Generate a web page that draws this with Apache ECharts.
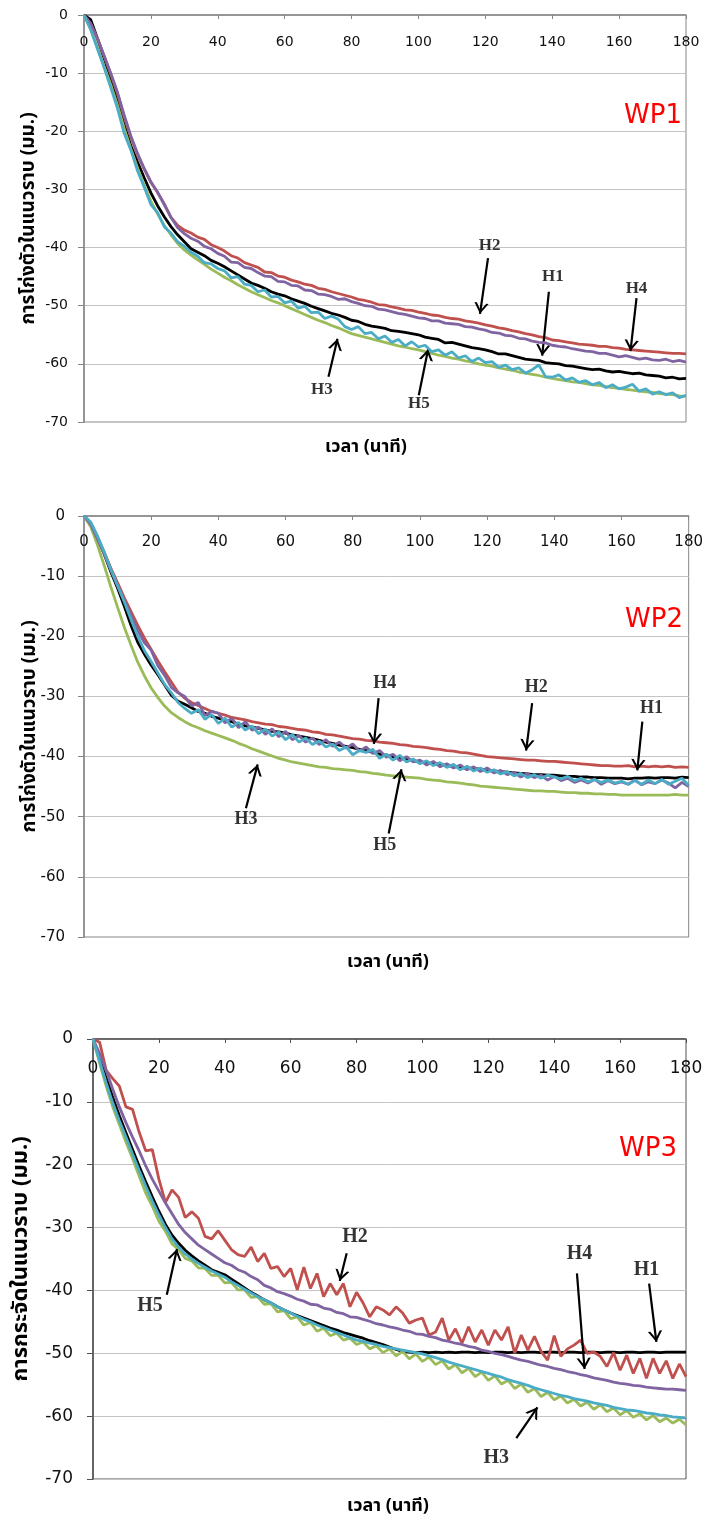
<!DOCTYPE html>
<html>
<head>
<meta charset="utf-8">
<script src="https://cdn.jsdelivr.net/npm/echarts@6/dist/echarts.min.js"></script>
<style>
  html, body { margin: 0; padding: 0; background: #fff; }
  #chart { width: 706px; height: 1520px; }
</style>
</head>
<body>
<div id="chart"></div>
<script>
// ---------- time axis (minutes) ----------
const T = [
  0, 2, 4, 6, 8, 10, 12, 14, 16, 18,
  20, 22, 24, 26, 28, 30, 32, 34, 36, 38,
  40, 42, 44, 46, 48, 50, 52, 54, 56, 58,
  60, 62, 64, 66, 68, 70, 72, 74, 76, 78,
  80, 82, 84, 86, 88, 90, 92, 94, 96, 98,
  100, 102, 104, 106, 108, 110, 112, 114, 116, 118,
  120, 122, 124, 126, 128, 130, 132, 134, 136, 138,
  140, 142, 144, 146, 148, 150, 152, 154, 156, 158,
  160, 162, 164, 166, 168, 170, 172, 174, 176, 178,
  180
];
const X_TICKS = [0, 20, 40, 60, 80, 100, 120, 140, 160, 180];
const Y_TICKS = [0, -10, -20, -30, -40, -50, -60, -70];
const SERIES_NAMES = ['H1', 'H2', 'H3', 'H4', 'H5'];

// ---------- WP1 ----------
const WP1_H1 = [
  0, -0.8, -4, -7.5, -11, -14.5, -18.8, -22.5, -25.3, -28,
  -30.6, -32.8, -34.7, -36.4, -37.8, -39, -40.2, -40.8, -41.4, -42.2,
  -42.7, -43.3, -44, -44.7, -45.4, -46.1, -46.5, -47, -47.6, -48,
  -48.3, -48.8, -49.2, -49.6, -50.1, -50.5, -50.9, -51.3, -51.6, -52,
  -52.5, -52.7, -53.2, -53.5, -53.7, -53.9, -54.3, -54.4, -54.6, -54.8,
  -55, -55.4, -55.6, -55.8, -56.4, -56.3, -56.6, -56.9, -57.2, -57.4,
  -57.6, -57.9, -58.3, -58.3, -58.6, -58.9, -59.2, -59.3, -59.4, -59.8,
  -59.9, -60, -60.3, -60.4, -60.6, -60.8, -61, -60.9, -61.2, -61.4,
  -61.3, -61.5, -61.7, -61.6, -61.9, -62, -62.1, -62.4, -62.3, -62.6,
  -62.5
];
const WP1_H2 = [
  0, -1.5, -4, -7, -10.2, -13.5, -17.5, -21, -24, -26.5,
  -28.8, -30.5, -32.5, -34.8, -36.2, -37, -37.5, -38.2, -38.6, -39.5,
  -40, -40.6, -41.4, -41.8, -42.6, -43, -43.4, -44.2, -44.3, -44.9,
  -45.1, -45.6, -45.9, -46.3, -46.5, -47, -47.2, -47.6, -47.9, -48.2,
  -48.5, -48.9, -49.1, -49.4, -49.8, -49.9, -50.2, -50.4, -50.7, -50.8,
  -51.1, -51.3, -51.6, -51.7, -52, -52.2, -52.3, -52.6, -52.8, -53,
  -53.3, -53.5, -53.8, -54, -54.3, -54.5, -54.8, -55, -55.3, -55.5,
  -55.9, -56, -56.2, -56.4, -56.6, -56.7, -56.8, -57, -57, -57.2,
  -57.3, -57.5, -57.6, -57.7, -57.8, -57.9, -58, -58.1, -58.2, -58.2,
  -58.3
];
const WP1_H3 = [
  0, -2.5, -5.5, -8.8, -12, -15.5, -19.5, -23, -26.3, -29.3,
  -32, -34.2, -36.2, -37.8, -39.3, -40.4, -41.3, -42.1, -42.9, -43.7,
  -44.4, -45.1, -45.7, -46.4, -47, -47.6, -48.1, -48.6, -49.1, -49.5,
  -50, -50.5, -51, -51.5, -52, -52.5, -52.9, -53.4, -53.8, -54.3,
  -54.8, -55.1, -55.4, -55.7, -56, -56.3, -56.6, -56.9, -57.1, -57.4,
  -57.6, -57.9, -58.2, -58.5, -58.7, -59, -59.2, -59.5, -59.7, -60,
  -60.2, -60.4, -60.7, -60.9, -61.1, -61.4, -61.6, -61.8, -62, -62.3,
  -62.5, -62.7, -62.9, -63.1, -63.2, -63.4, -63.6, -63.7, -63.9, -64.1,
  -64.2, -64.4, -64.5, -64.7, -64.8, -64.9, -65.1, -65.2, -65.3, -65.5,
  -65.6
];
const WP1_H4 = [
  0, -1.5, -4, -7, -10, -13.3, -17.2, -20.8, -23.8, -26.4,
  -28.7, -30.5, -32.6, -34.8, -36.6, -37.6, -38.4, -38.9, -39.8, -40.2,
  -41, -41.5, -42.5, -42.6, -43.4, -43.6, -44.3, -44.9, -45, -45.8,
  -45.9, -46.5, -46.6, -47.3, -47.4, -48, -48.1, -48.4, -48.9, -48.8,
  -49.3, -49.6, -50, -50.1, -50.6, -50.7, -51, -51.3, -51.5, -51.8,
  -52.1, -52.2, -52.6, -52.6, -53, -53.1, -53.2, -53.6, -53.7, -54,
  -54.2, -54.6, -54.7, -55.1, -55.2, -55.6, -55.7, -56.1, -56.3, -56.4,
  -56.8, -57, -57.1, -57.4, -57.6, -57.8, -57.9, -58.2, -58.2, -58.5,
  -58.8, -58.6, -58.9, -59.2, -59, -59.3, -59.4, -59.2, -59.6, -59.4,
  -59.7
];
const WP1_H5 = [
  0, -2.5, -5.8, -9, -12.5, -16, -20.3, -23.2, -26.8, -29.6,
  -32.6, -34, -36.4, -37.5, -39, -39.8, -40.8, -41.5, -42.6, -42.8,
  -43.6, -44, -45.2, -45, -46.3, -46.5, -47.6, -47.3, -48.5, -48.4,
  -49.5, -49.2, -50.4, -50.1, -51.2, -51.1, -52.2, -51.8, -52.3, -53.6,
  -54.1, -53.6, -54.8, -54.6, -55.7, -55.2, -56.3, -55.8, -56.9, -56.2,
  -57.1, -56.8, -57.9, -57.6, -58.5, -57.9, -59, -58.6, -59.6, -59,
  -59.8, -59.6, -60.6, -60.2, -61, -60.7, -61.6, -61, -60.2, -62.2,
  -62.3, -61.9, -62.8, -62.4, -63.2, -62.9, -63.6, -63.2, -64.1, -63.6,
  -64.3, -64, -63.5, -64.7, -64.3, -65.2, -64.8, -65.3, -65, -65.8,
  -65.4
];

// ---------- WP2 ----------
const WP2_H1 = [
  0, -1.2, -3.6, -6.3, -9.3, -12, -15, -18.2, -21, -23,
  -24.8, -26.4, -28.1, -29.8, -30.8, -31.3, -31.9, -32.5, -32.8, -33.3,
  -33.6, -34, -34.2, -34.6, -34.9, -35.1, -35.3, -35.6, -35.8, -35.9,
  -36.1, -36.4, -36.6, -36.8, -37, -37.3, -37.6, -37.8, -38.1, -38.3,
  -38.5, -38.8, -39, -39.3, -39.6, -39.8, -40, -40.3, -40.4, -40.7,
  -40.9, -41, -41.2, -41.3, -41.5, -41.6, -41.8, -41.9, -42, -42.1,
  -42.2, -42.4, -42.5, -42.6, -42.7, -42.8, -42.9, -43, -43, -43.1,
  -43.1, -43.2, -43.3, -43.3, -43.4, -43.4, -43.5, -43.5, -43.6, -43.6,
  -43.6, -43.7, -43.6, -43.6, -43.5, -43.6, -43.5, -43.5, -43.6, -43.4,
  -43.5
];
const WP2_H2 = [
  0, -1.2, -3.5, -6, -8.7, -11.1, -13.6, -15.9, -18.2, -20.3,
  -22.2, -24.1, -25.9, -27.6, -29.3, -30.3, -31, -31.5, -32, -32.5,
  -32.8, -33.1, -33.5, -33.7, -33.9, -34.2, -34.4, -34.6, -34.7, -35,
  -35.1, -35.3, -35.5, -35.6, -35.9, -36, -36.3, -36.4, -36.6, -36.8,
  -37, -37.1, -37.3, -37.4, -37.6, -37.7, -37.8, -38, -38.1, -38.3,
  -38.4, -38.5, -38.7, -38.8, -39, -39.1, -39.3, -39.4, -39.6, -39.8,
  -40, -40.1, -40.2, -40.3, -40.4, -40.5, -40.6, -40.6, -40.7, -40.8,
  -40.8, -40.9, -41, -41.1, -41.2, -41.3, -41.4, -41.5, -41.5, -41.6,
  -41.6, -41.5, -41.7, -41.6, -41.7, -41.6, -41.7, -41.6, -41.8, -41.7,
  -41.8
];
const WP2_H3 = [
  0, -1.8, -4.8, -8.2, -11.8, -15.2, -18.5, -21.5, -24.3, -26.6,
  -28.6, -30.2, -31.6, -32.7, -33.5, -34.2, -34.8, -35.2, -35.7, -36.1,
  -36.5, -36.9, -37.3, -37.8, -38.2, -38.7, -39.1, -39.5, -39.9, -40.3,
  -40.6, -40.9, -41.1, -41.3, -41.5, -41.7, -41.8, -42, -42.1, -42.2,
  -42.3, -42.5, -42.6, -42.8, -42.9, -43.1, -43.2, -43.3, -43.4, -43.5,
  -43.6, -43.8, -43.9, -44, -44.2, -44.3, -44.4, -44.6, -44.7, -44.9,
  -45, -45.1, -45.2, -45.3, -45.4, -45.5, -45.6, -45.7, -45.7, -45.8,
  -45.8, -45.9, -46, -46, -46.1, -46.1, -46.2, -46.2, -46.3, -46.3,
  -46.4, -46.4, -46.4, -46.4, -46.4, -46.4, -46.4, -46.4, -46.3, -46.4,
  -46.4
];
const WP2_H4 = [
  0, -1.4, -3.8, -6.3, -9, -11.6, -14, -16.5, -19, -21.1,
  -22.3, -24.9, -26.5, -28.5, -29.4, -30, -31.6, -31, -33.2, -32.5,
  -32.8, -34.4, -33.6, -35.2, -34.2, -35.6, -35.1, -36.3, -35.4, -36.7,
  -35.8, -37.2, -36.5, -37.6, -36.9, -38, -37.2, -38.3, -37.6, -38.6,
  -37.9, -39.1, -38.4, -39.5, -39, -40.1, -39.6, -40.7, -40, -40.9,
  -40.6, -41.4, -40.8, -41.7, -41.2, -41.9, -41.4, -42.2, -41.7, -42.5,
  -41.9, -42.7, -42.3, -43, -42.6, -43.4, -42.8, -43.5, -43.1, -43.9,
  -43.3, -44, -43.6, -44.3, -43.9, -44.4, -43.8, -44.6, -44, -44.5,
  -44.2, -44.6, -43.9, -44.7, -44.2, -44.5, -43.9, -44.4, -45.2, -44.3,
  -45
];
const WP2_H5 = [
  0, -1, -3.3, -6, -8.9, -11.6, -14.3, -17.2, -20, -22.4,
  -24.2, -26.1, -28, -29.4, -31, -32, -32.8, -32.2, -33.8, -33,
  -34.5, -33.6, -35.1, -34.3, -35.6, -34.9, -36.2, -35.4, -36.6, -35.9,
  -37.2, -36.3, -37.6, -36.9, -38, -37.4, -38.4, -37.9, -39, -38.4,
  -39.7, -39, -39.3, -38.8, -40.3, -39.6, -40.6, -39.8, -40.9, -40.4,
  -41.2, -40.7, -41.5, -41, -41.8, -41.3, -42.2, -41.6, -42.4, -41.9,
  -42.6, -42.2, -42.9, -42.5, -43.2, -42.8, -43.5, -43, -43.6, -43.1,
  -43.4, -43.7, -43.3, -44, -43.6, -44.2, -43.8, -44.3, -43.9, -44.4,
  -44.1, -44.6, -44, -44.6, -43.9, -44.5, -43.8, -44.6, -44.1, -43.6,
  -44.8
];

// ---------- WP3 ----------
const WP3_H1 = [
  0, -3, -6.2, -9.3, -12.2, -14.9, -17.6, -20.2, -22.7, -25.1,
  -27.4, -29.5, -31.2, -32.5, -33.6, -34.5, -35.3, -36, -36.7, -37.1,
  -37.5, -38.2, -38.9, -39.6, -40.3, -40.9, -41.5, -42, -42.6, -43.1,
  -43.6, -44, -44.4, -44.8, -45.2, -45.6, -46, -46.3, -46.7, -47,
  -47.3, -47.6, -48, -48.3, -48.6, -49, -49.4, -49.7, -49.8, -49.9,
  -49.8, -49.9, -49.8, -49.9, -49.8, -49.9, -49.8, -49.8, -49.9, -49.8,
  -49.9, -49.8, -49.8, -49.9, -49.8, -49.9, -49.8, -49.8, -49.9, -49.8,
  -49.8, -49.9, -49.8, -49.8, -49.9, -49.8, -49.8, -49.9, -49.8, -49.8,
  -49.9, -49.8, -49.8, -49.9, -49.8, -49.8, -49.9, -49.8, -49.8, -49.8,
  -49.8
];
const WP3_H2 = [
  0, -0.5, -5, -6.3, -7.5, -10.8, -11.2, -14.8, -17.8, -17.6,
  -22.3, -26, -24, -25.2, -28.4, -27.5, -28.5, -31.4, -31.8, -30.5,
  -32, -33.5, -34.3, -34.6, -33.1, -35.4, -34.1, -36.5, -36.2, -37.8,
  -36.5, -39.9, -36.3, -39.7, -37.3, -41, -38.9, -40.7, -38.9, -42.6,
  -40.3, -42, -44.2, -42.6, -43.1, -43.9, -42.6, -43.6, -45.2, -44.7,
  -44.4, -47.1, -46.6, -44.4, -47.9, -46.1, -48.4, -45.8, -48.2, -46.3,
  -48.7, -46.3, -47.9, -45.8, -50, -47.1, -49.5, -47.3, -49.7, -51.1,
  -47.2, -50.5, -49.3, -48.7, -47.9, -50, -49.8, -50.5, -52.1, -49.9,
  -52.7, -50.3, -53.2, -50.8, -54, -50.8, -53.2, -51.2, -54, -51.7,
  -53.7
];
const WP3_H3 = [
  0, -3.8, -7.5, -10.8, -13.6, -16.4, -19, -21.8, -24.5, -26.6,
  -29, -30.6, -32.6, -33.5, -34.9, -35.3, -36.4, -36.5, -37.6, -37.6,
  -38.8, -38.7, -39.9, -39.9, -41.1, -41, -42.2, -42.1, -43.4, -43.2,
  -44.5, -44.2, -45.5, -45.1, -46.5, -46, -47.2, -46.8, -47.9, -47.6,
  -48.6, -48.2, -49.3, -48.8, -49.9, -49.3, -50.4, -49.7, -50.9, -50.1,
  -51.3, -50.6, -51.8, -51.2, -52.5, -51.8, -53.1, -52.4, -53.7, -53,
  -54.3, -53.6, -54.9, -54.3, -55.6, -54.9, -56.2, -55.6, -56.9, -56.2,
  -57.4, -56.8, -57.9, -57.3, -58.4, -57.8, -58.9, -58.2, -59.3, -58.7,
  -59.8, -59.1, -60.2, -59.6, -60.6, -59.9, -60.9, -60.3, -61.1, -60.5,
  -61.4
];
const WP3_H4 = [
  0, -2.3, -5, -8, -10.8, -13.3, -15.6, -17.8, -20.2, -22.3,
  -24.2, -26.1, -27.8, -29.5, -30.8, -31.8, -32.8, -33.5, -34.2, -34.9,
  -35.6, -36, -36.7, -37.1, -37.8, -38.3, -39.2, -39.6, -40.2, -40.5,
  -40.9, -41.4, -41.7, -42.2, -42.3, -42.8, -43, -43.5, -43.7, -44.2,
  -44.3, -44.6, -44.9, -45.3, -45.5, -45.8, -46, -46.3, -46.5, -46.9,
  -47, -47.3, -47.5, -47.9, -48.1, -48.4, -48.6, -48.9, -49.1, -49.5,
  -49.7, -50, -50.2, -50.5, -50.8, -51.1, -51.3, -51.6, -51.9, -52.1,
  -52.4, -52.6, -52.9, -53.1, -53.4, -53.6, -53.9, -54.1, -54.3, -54.6,
  -54.8, -54.9, -55.1, -55.2, -55.4, -55.5, -55.6, -55.7, -55.7, -55.8,
  -55.9
];
const WP3_H5 = [
  0, -3.5, -7, -10.2, -13, -15.6, -18.3, -20.9, -23.4, -25.8,
  -28, -30, -31.8, -33.1, -34.2, -35, -35.7, -36.3, -36.9, -37.4,
  -37.9, -38.6, -39.2, -39.8, -40.4, -41, -41.5, -42, -42.6, -43.1,
  -43.6, -44.1, -44.6, -45, -45.5, -45.9, -46.3, -46.7, -47.1, -47.5,
  -47.9, -48.1, -48.4, -48.6, -48.9, -49.1, -49.3, -49.5, -49.7, -49.9,
  -50.1, -50.4, -50.7, -51, -51.4, -51.7, -52, -52.3, -52.6, -52.9,
  -53.2, -53.5, -53.8, -54.2, -54.5, -54.8, -55.1, -55.5, -55.8, -56.1,
  -56.4, -56.7, -56.9, -57.2, -57.4, -57.6, -57.9, -58.1, -58.3, -58.6,
  -58.8, -59, -59.1, -59.3, -59.5, -59.6, -59.8, -59.9, -60.1, -60.2,
  -60.3
];

// ---------- annotations: [name, label point, arrow start, arrow tip] (data units) ----------
const NOTES_WP1 = [
  ['H2', [121.3, -39.6], [120.8, -41.8], [118.4, -51.4]],
  ['H1', [140.2, -45.0], [139.0, -47.6], [137.0, -58.6]],
  ['H4', [165.2, -47.0], [165.2, -48.7], [163.4, -57.8]],
  ['H5', [100.1, -66.8], [100.1, -65.4], [102.9, -57.5]],
  ['H3', [71.1, -64.5], [73.1, -62.2], [75.8, -55.7]]
];
const NOTES_WP2 = [
  ['H4', [89.5, -27.8], [87.7, -30.3], [86.3, -37.9]],
  ['H2', [134.6, -28.5], [133.4, -31.1], [131.6, -39.0]],
  ['H1', [168.9, -32.0], [166.2, -34.2], [164.7, -42.3]],
  ['H5', [89.5, -54.7], [90.7, -52.8], [94.5, -42.1]],
  ['H3', [48.2, -50.5], [48.2, -48.6], [51.7, -41.3]]
];
const NOTES_WP3 = [
  ['H5', [17.3, -42.5], [22.4, -40.7], [25.5, -33.4]],
  ['H2', [79.5, -31.4], [77.0, -34.1], [74.9, -38.5]],
  ['H4', [147.7, -34.1], [146.9, -37.3], [149.2, -52.5]],
  ['H1', [168.0, -36.7], [168.8, -38.9], [171.0, -48.2]],
  ['H3', [122.4, -66.7], [128.5, -63.5], [134.9, -58.6]]
];

// ---------- build ----------
const COLORS = { H1: '#000000', H2: '#C0504D', H3: '#9BBB59', H4: '#8064A2', H5: '#4BACC6' };
const PANELS = [
  { tag: 'WP1', data: [WP1_H1, WP1_H2, WP1_H3, WP1_H4, WP1_H5], notes: NOTES_WP1,
    grid: { left: 84, top: 15, width: 602, height: 407 },
    yName: 'การโก่งตัวในแนวราบ (มม.)', tickFont: 14, labelMargin: 27, yMargin: 16,
    nameGap: 44, nameFont: 19, noteFont: 17, axisColor: '#868686', tagPos: [653, 116], xTitle: [366, 448] },
  { tag: 'WP2', data: [WP2_H1, WP2_H2, WP2_H3, WP2_H4, WP2_H5], notes: NOTES_WP2,
    grid: { left: 84, top: 516, width: 608, height: 421 },
    yName: 'การโก่งตัวในแนวราบ (มม.)', tickFont: 15, labelMargin: 26, yMargin: 19,
    nameGap: 43, nameFont: 19, noteFont: 18, axisColor: '#868686', tagPos: [654, 620], xTitle: [388, 963] },
  { tag: 'WP3', data: [WP3_H1, WP3_H2, WP3_H3, WP3_H4, WP3_H5], notes: NOTES_WP3,
    grid: { left: 93, top: 1039, width: 593, height: 440 },
    yName: 'การกระจัดในแนวราบ (มม.)', tickFont: 17, labelMargin: 30, yMargin: 20,
    nameGap: 59, nameFont: 22, noteFont: 20, axisColor: '#505050', tagPos: [648, 1149], xTitle: [388, 1507] }
];

const ARROW = 'path://M0,0 M20,0 M10,10 L16.5,20 L14.3,20 L10,13.4 L5.7,20 L3.5,20 Z';
const THAI = "'Noto Sans Thai', 'Noto Serif Thai', 'Loma', 'Garuda', 'Tlwg Typo', 'DejaVu Sans', sans-serif";

const grids = [], xAxes = [], yAxes = [], series = [], graphics = [];
PANELS.forEach((p, i) => {
  grids.push(Object.assign({ show: true, borderColor: p.axisColor, borderWidth: 1, containLabel: false }, p.grid));
  xAxes.push({
    gridIndex: i, type: 'value', position: 'top',
    min: X_TICKS[0], max: X_TICKS[X_TICKS.length - 1], interval: X_TICKS[1] - X_TICKS[0],
    axisLine: { onZero: false, lineStyle: { color: p.axisColor, width: 1.5 } },
    axisTick: { inside: true, length: 4, lineStyle: { color: p.axisColor } },
    axisLabel: { inside: true, margin: p.labelMargin, fontSize: p.tickFont, color: '#111', fontFamily: 'DejaVu Sans', verticalAlign: 'middle' },
    splitLine: { show: false }
  });
  yAxes.push({
    gridIndex: i, type: 'value',
    min: Y_TICKS[Y_TICKS.length - 1], max: Y_TICKS[0], interval: Y_TICKS[0] - Y_TICKS[1],
    axisLine: { show: true, onZero: false, lineStyle: { color: p.axisColor, width: 1.5 } },
    axisTick: { show: true, inside: false, length: 6, lineStyle: { color: p.axisColor } },
    axisLabel: { margin: p.yMargin, fontSize: p.tickFont, color: '#111', fontFamily: 'DejaVu Sans' },
    splitLine: { show: true, lineStyle: { color: '#C4C4C4', width: 1 } },
    name: p.yName, nameLocation: 'middle', nameRotate: 90, nameGap: p.nameGap, nameMoveOverlap: false,
    nameTextStyle: { fontSize: p.nameFont, fontWeight: 'bold', color: '#000', fontFamily: THAI }
  });
  p.data.forEach((arr, k) => {
    const nm = SERIES_NAMES[k];
    series.push({
      name: p.tag + ' ' + nm, type: 'line', xAxisIndex: i, yAxisIndex: i,
      data: T.map((t, j) => [t, arr[j]]),
      showSymbol: false, symbol: 'none', smooth: false, silent: true,
      lineStyle: { color: COLORS[nm], width: 2.8 }, itemStyle: { color: COLORS[nm] },
      z: 2 + k
    });
  });
  series.push({
    name: p.tag + ' notes', type: 'scatter', xAxisIndex: i, yAxisIndex: i, z: 10, silent: true,
    symbolSize: 1, itemStyle: { color: 'rgba(0,0,0,0)' },
    data: p.notes.map(n => [n[1][0], n[1][1], n[0]]),
    label: { show: true, position: 'inside', formatter: q => q.data[2],
      fontFamily: "'Liberation Serif', 'Times New Roman', serif", fontWeight: 'bold', fontSize: p.noteFont, color: '#000' },
    markLine: {
      silent: true, animation: false, symbol: ['none', ARROW], symbolSize: 22,
      lineStyle: { color: '#000', width: 2.2, type: 'solid' }, label: { show: false },
      data: p.notes.map(n => [{ coord: n[2] }, { coord: n[3] }])
    }
  });
  graphics.push({
    type: 'text', x: p.tagPos[0], y: p.tagPos[1], z: 20,
    style: { text: p.tag, fill: '#FF0000', font: 'normal 26px "DejaVu Sans"', textAlign: 'center', textVerticalAlign: 'middle' }
  });
  graphics.push({
    type: 'text', x: p.xTitle[0], y: p.xTitle[1], z: 20,
    style: { text: 'เวลา (นาที)', fill: '#000', font: 'bold 18px ' + THAI, textAlign: 'center', textVerticalAlign: 'middle' }
  });
});

const chart = echarts.init(document.getElementById('chart'), null, { renderer: 'canvas', width: 706, height: 1520 });
chart.setOption({
  animation: false,
  backgroundColor: '#ffffff',
  grid: grids, xAxis: xAxes, yAxis: yAxes, series: series, graphic: graphics
});
</script>
</body>
</html>
